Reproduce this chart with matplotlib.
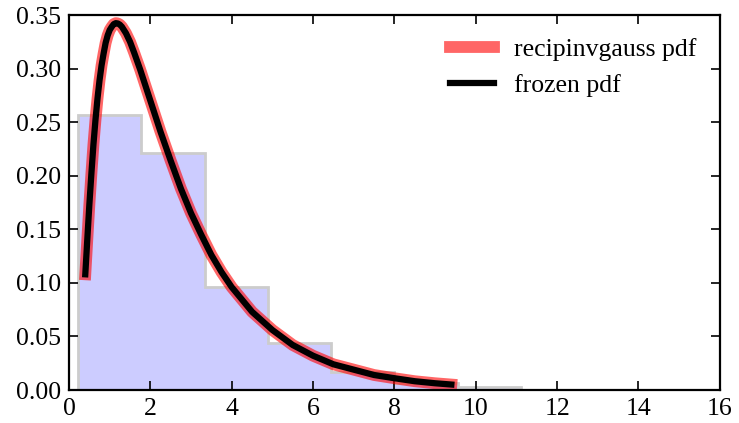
import numpy as np
import matplotlib
matplotlib.use("Agg")
import matplotlib.pyplot as plt

# pdf curve
x = [0.40, 0.45, 0.50, 0.55, 0.60, 0.65, 0.70, 0.75, 0.80, 0.85, 0.90, 0.95,
     1.00, 1.05, 1.10, 1.15, 1.20, 1.25, 1.30, 1.40, 1.50, 1.60, 1.75, 2.00,
     2.25, 2.50, 2.75, 3.00, 3.25, 3.50, 3.75, 4.00, 4.50, 5.00, 5.50, 6.00,
     6.50, 7.00, 7.50, 8.00, 8.50, 9.00, 9.40]
pdf = [0.108, 0.141, 0.173, 0.202, 0.229, 0.252, 0.272, 0.289, 0.303, 0.314,
       0.324, 0.331, 0.336, 0.339, 0.3415, 0.3424, 0.3421, 0.341, 0.339, 0.333,
       0.325, 0.315, 0.299, 0.270, 0.241, 0.214, 0.188, 0.165, 0.145, 0.126,
       0.110, 0.096, 0.073, 0.056, 0.042, 0.032, 0.024, 0.019, 0.014, 0.011,
       0.0082, 0.0063, 0.0051]

# histogram of the random sample (normed)
bin_edges = [0.22, 1.78, 3.34, 4.89, 6.45, 8.00, 9.56, 11.12]
bin_heights = [0.257, 0.221, 0.096, 0.044, 0.017, 0.0065, 0.0030]

plt.rcParams['font.family'] = ['Liberation Serif', 'DejaVu Serif']
plt.rcParams['font.size'] = 18.5
plt.rcParams['xtick.direction'] = 'in'
plt.rcParams['ytick.direction'] = 'in'
plt.rcParams['xtick.top'] = True
plt.rcParams['ytick.right'] = True
plt.rcParams['xtick.major.size'] = 6.5
plt.rcParams['ytick.major.size'] = 6.5
plt.rcParams['xtick.major.width'] = 1.2
plt.rcParams['ytick.major.width'] = 1.2
plt.rcParams['xtick.major.pad'] = 6
plt.rcParams['ytick.major.pad'] = 6
plt.rcParams['axes.linewidth'] = 1.6

fig = plt.figure(figsize=(7.39, 4.23), dpi=100)
ax = fig.add_axes([0.0934, 0.078, 0.8806, 0.8865])

ax.hist(bin_edges[:-1], bins=bin_edges, weights=bin_heights,
        histtype='stepfilled', facecolor='#ccccff',
        edgecolor='#cccccc', lw=2)
ax.plot(x, pdf, '-', color=(1, 0, 0), lw=8.5, alpha=0.6,
        solid_capstyle='projecting', solid_joinstyle='round',
        label='recipinvgauss pdf')
ax.plot(x, pdf, 'k-', lw=4.5, solid_joinstyle='round', label='frozen pdf')

ax.set_xlim(0, 16)
ax.set_ylim(0, 0.35)
ax.set_xticks(np.arange(0, 17, 2))
ax.set_yticks(np.arange(0, 0.351, 0.05))
ax.set_yticklabels(['%.2f' % v for v in np.arange(0, 0.351, 0.05)])

ax.legend(loc='upper right', frameon=False, handlelength=1.7,
          fontsize=18.5, borderaxespad=0.5)

fig.savefig('out.png', dpi=100)
